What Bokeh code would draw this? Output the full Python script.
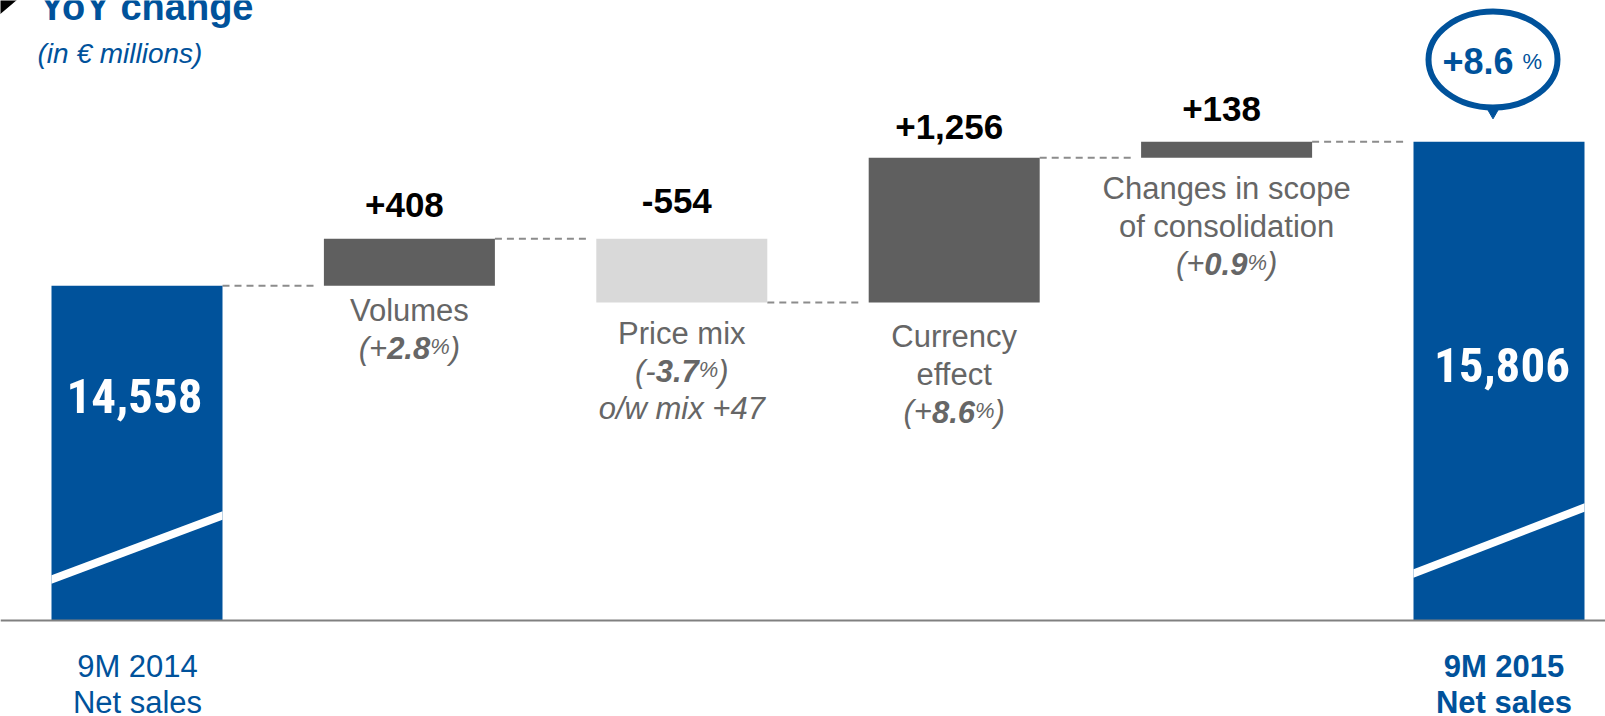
from bokeh.plotting import figure
from bokeh.models import Range1d, Span, ColumnDataSource
from bokeh.core.properties import value
from bokeh.embed import file_html
from bokeh.resources import INLINE

# ---------------- data ----------------
title_text = "YoY change"
subtitle_text = "(in \u20ac millions)"
start_total = 14558
end_total = 15806
deltas = [408, -554, 1256, 138]
delta_labels = ["+408", "-554", "+1,256", "+138"]
total_labels = ["14,558", "15,806"]
total_names = [["9M 2014", "Net sales"], ["9M 2015", "Net sales"]]
step_names = [["Volumes"], ["Price mix"], ["Currency", "effect"],
              ["Changes in scope", "of consolidation"]]
step_pct_sign = ["+", "-", "+", "+"]
step_pct_value = ["2.8", "3.7", "8.6", "0.9"]
step_notes = ["", "o/w mix +47", "", ""]
growth_pct = "+8.6"

# ---------------- style / layout ----------------
BLUE = "#00529B"
DARK = "#5F5F5F"
LIGHT = "#D9D9D9"
GREY_TXT = "#666666"
DASH = "#8C8C8C"
SANS = "Liberation Sans"
COND = "Roboto Condensed"
DESC = {SANS: 0.212, COND: 0.244}   # font descent (em)
NUMERIC = set("0123456789.,+-% ")

W, H = 1605, 716
CAT_PX = 272.4          # horizontal distance between categories (px)
CAT0_SX = 136.5         # screen x of first category centre
K = 0.11532             # px per EUR million
FLOOR_SY = 620.0        # screen y of the (broken) axis floor
AXIS_FLOOR = 11655      # value at which the axis is broken
BAR_W = 171 / CAT_PX
LABEL_GAP = [36, 42, 45, 42]   # px between bar bottom and first label baseline
VALUE_GAP = [22, 26, 19, 21]   # px between bar top and value label baseline
LINE = 37.5


def sx_to_x(sx):
    return (sx - CAT0_SX) / CAT_PX


def sy_to_y(sy):
    return AXIS_FLOOR + (FLOOR_SY - sy) / K


def px(dpx):
    return dpx / K


def pxx(dpx):
    return dpx / CAT_PX


p = figure(width=W, height=H, output_backend="svg", toolbar_location=None,
           x_range=Range1d(sx_to_x(0), sx_to_x(W)),
           y_range=Range1d(sy_to_y(H), sy_to_y(0)),
           x_axis_type=None, y_axis_type=None, min_border=0)
p.outline_line_color = None
p.grid.visible = False
p.background_fill_color = "white"
p.border_fill_color = "white"

# ---------------- bars ----------------
xs, bottoms, tops, colors = [], [], [], []
levels = [start_total]
xs.append(0); bottoms.append(AXIS_FLOOR); tops.append(start_total); colors.append(BLUE)
for i, d in enumerate(deltas):
    prev = levels[-1]
    new = prev + d
    xs.append(i + 1)
    bottoms.append(min(prev, new))
    tops.append(max(prev, new))
    colors.append(DARK if d >= 0 else LIGHT)
    levels.append(new)
xs.append(len(deltas) + 1); bottoms.append(AXIS_FLOOR); tops.append(end_total); colors.append(BLUE)

src = ColumnDataSource(dict(x=xs, bottom=bottoms, top=tops, color=colors))

# dashed connectors between consecutive bars
cx0 = [x + BAR_W / 2 for x in xs[:-1]]
cx1 = [x + 1 - BAR_W / 2 - pxx(8) for x in xs[:-1]]
p.segment(x0=cx0, y0=levels, x1=cx1, y1=levels, line_color=DASH,
          line_width=2, line_dash="7 5")

p.vbar(x="x", bottom="bottom", top="top", width=BAR_W, fill_color="color",
       line_color=None, source=src)

# white "break" stripes on the total bars
stripe_px = [(41, 105), (47, 113)]
for j, xi in enumerate([xs[0], xs[-1]]):
    l, r = xi - BAR_W / 2, xi + BAR_W / 2
    yl, yr = AXIS_FLOOR + px(stripe_px[j][0]), AXIS_FLOOR + px(stripe_px[j][1])
    h = px(4.2)
    p.patch(x=[l, r, r, l], y=[yl - h, yr - h, yr + h, yl + h],
            fill_color="white", line_color=None)

p.add_layout(Span(location=AXIS_FLOOR, dimension="width",
                  line_color="#808080", line_width=2))


def txt(x, y_base, s, size, style="normal", color="black", align="center", font=SANS):
    """Place text so that its alphabetic baseline sits at data y_base."""
    desc = 0.0 if set(s) <= NUMERIC else DESC[font] * size
    y_line = y_base - px(desc)
    p.text(x=[x], y=[y_line], text=[s], text_font=value(font),
           text_font_size=f"{size}px", text_font_style=style,
           text_color=color, text_align=align, text_baseline="bottom")


# ---------------- texts ----------------
p.patch(x=[sx_to_x(-8), sx_to_x(17), sx_to_x(-8)],
        y=[sy_to_y(20), sy_to_y(-1), sy_to_y(-22)], fill_color="black", line_color=None)
txt(sx_to_x(39), sy_to_y(19), title_text, 38, "bold", BLUE, "left")
txt(sx_to_x(37), sy_to_y(63), subtitle_text, 28, "italic", BLUE, "left")

# delta values above bars
for i, lab in enumerate(delta_labels):
    xi = xs[i + 1]
    txt(xi - pxx(5), tops[i + 1] + px(VALUE_GAP[i]), lab, 35, "bold", "black")

# step descriptions below bars
wmap = {'(': 333, ')': 333, '+': 584, '-': 333, '%': 889, '.': 278}
for i in range(len(deltas)):
    xi = xs[i + 1]
    y0 = bottoms[i + 1] - px(LABEL_GAP[i])
    n = 0
    for s in step_names[i]:
        txt(xi, y0 - px(LINE * n), s, 31, "normal", GREY_TXT)
        n += 1
    pieces = [("(" + step_pct_sign[i], "italic", 31),
              (step_pct_value[i], "bold italic", 31),
              ("%", "italic", 22),
              (")", "italic", 31)]
    widths = [sum(wmap.get(c, 556) for c in s) * sz / 1000 for s, _, sz in pieces]
    cur = -sum(widths) / 2
    yy = y0 - px(LINE * n)
    for (s, st, sz), w in zip(pieces, widths):
        txt(xi + pxx(cur), yy, s, sz, st, GREY_TXT, "left")
        cur += w
    n += 1
    if step_notes[i]:
        txt(xi, y0 - px(LINE * n), step_notes[i], 31, "italic", GREY_TXT)

# totals
inner_px = [208, 239]
inner_dx = [-2.5, 3]
name_dx = [0.5, 5]
for j, xi in enumerate([xs[0], xs[-1]]):
    txt(xi + pxx(inner_dx[j]), AXIS_FLOOR + px(inner_px[j]), total_labels[j], 49,
        "bold", "white", font=COND)
    st = "normal" if j == 0 else "bold"
    txt(xi + pxx(name_dx[j]), AXIS_FLOOR - px(57), total_names[j][0], 31, st, BLUE)
    txt(xi + pxx(name_dx[j]), AXIS_FLOOR - px(93), total_names[j][1], 31, st, BLUE)

# growth callout above final bar
ex = sx_to_x(1492.5)
p.ellipse(x=[ex], y=[sy_to_y(59)], width=129, height=96,
          width_units="screen", height_units="screen",
          fill_color="white", line_color=BLUE, line_width=6)
p.scatter(x=[ex], y=[sy_to_y(112)], marker="inverted_triangle", size=11,
          fill_color=BLUE, line_color=BLUE)
txt(sx_to_x(1442), sy_to_y(73), growth_pct, 36, "bold", BLUE, "left")
txt(sx_to_x(1522), sy_to_y(73), "%", 22, "normal", BLUE, "left")

open("out.html", "w").write(file_html(p, INLINE))
